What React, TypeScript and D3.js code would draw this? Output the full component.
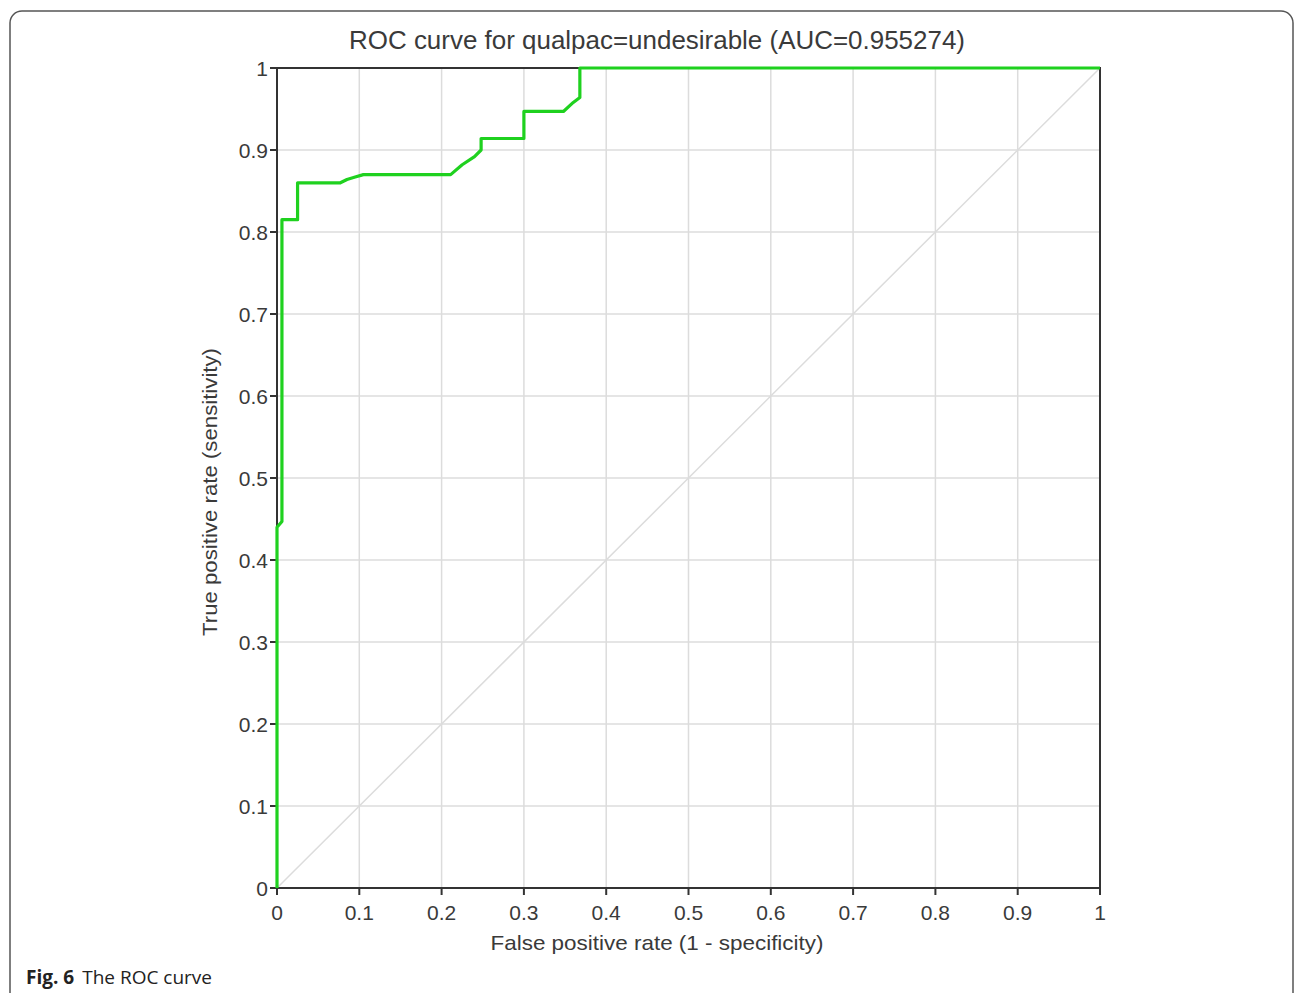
import * as d3 from 'd3';

// ROC points
const fpr = [0, 0, 0.006, 0.006, 0.025, 0.025, 0.077, 0.085, 0.095, 0.105, 0.211, 0.225, 0.24, 0.248, 0.248, 0.3, 0.3, 0.348, 0.36, 0.368, 0.368, 1];
const tpr = [0, 0.44, 0.447, 0.815, 0.815, 0.86, 0.86, 0.864, 0.867, 0.87, 0.87, 0.882, 0.892, 0.9, 0.914, 0.914, 0.947, 0.947, 0.958, 0.964, 1, 1];
const ticks = [0, 0.1, 0.2, 0.3, 0.4, 0.5, 0.6, 0.7, 0.8, 0.9, 1];

const title = 'ROC curve for qualpac=undesirable (AUC=0.955274)';
const xLabel = 'False positive rate (1 - specificity)';
const yLabel = 'True positive rate (sensitivity)';

export default function App() {
  const W = 1295;
  const H = 993;
  const left = 277;
  const right = 1100;
  const top = 68;
  const bottom = 888;

  const x = d3.scaleLinear().domain([0, 1]).range([left, right]);
  const y = d3.scaleLinear().domain([0, 1]).range([bottom, top]);

  const pts = fpr.map((f, i) => [f, tpr[i]] as [number, number]);
  const roc = d3
    .line<[number, number]>()
    .x((d) => x(d[0]))
    .y((d) => y(d[1]))(pts) ?? '';

  const font = '"Liberation Sans", Arial, sans-serif';
  const ink = '#3a3a3a';

  return (
    <svg
      width={W}
      height={H}
      style={{ position: 'absolute', left: 0, top: 0, background: '#fff' }}
    >
      <rect x={10} y={11} width={1283} height={1040} rx={12} fill="#fff" stroke="#555" strokeWidth={1.5} />

      {ticks.map((t) => (
        <g key={'g' + t}>
          <line x1={x(t)} x2={x(t)} y1={top} y2={bottom} stroke="#dcdcdc" strokeWidth={1.5} />
          <line x1={left} x2={right} y1={y(t)} y2={y(t)} stroke="#dcdcdc" strokeWidth={1.5} />
        </g>
      ))}
      <line x1={x(0)} y1={y(0)} x2={x(1)} y2={y(1)} stroke="#dcdcdc" strokeWidth={1.5} />

      <rect x={left} y={top} width={right - left} height={bottom - top} fill="none" stroke="#333" strokeWidth={2} />

      {ticks.map((t) => (
        <g key={'t' + t}>
          <line x1={x(t)} x2={x(t)} y1={bottom} y2={bottom + 7} stroke="#333" strokeWidth={2} />
          <line x1={left - 7} x2={left} y1={y(t)} y2={y(t)} stroke="#333" strokeWidth={2} />
          <text x={x(t)} y={920} textAnchor="middle" fontFamily={font} fontSize={21} fill={ink}>
            {d3.format('~g')(t)}
          </text>
          <text x={268} y={y(t)} dy="0.36em" textAnchor="end" fontFamily={font} fontSize={21} fill={ink}>
            {d3.format('~g')(t)}
          </text>
        </g>
      ))}

      <path d={roc} fill="none" stroke="#1fd11f" strokeWidth={3.2} strokeLinejoin="round" />

      <text
        x={657}
        y={49}
        textAnchor="middle"
        fontFamily={font}
        fontSize={25}
        fill={ink}
        textLength={616}
        lengthAdjust="spacingAndGlyphs"
      >
        {title}
      </text>
      <text
        x={657}
        y={950}
        textAnchor="middle"
        fontFamily={font}
        fontSize={21}
        fill={ink}
        textLength={333}
        lengthAdjust="spacingAndGlyphs"
      >
        {xLabel}
      </text>
      <text
        transform={`translate(217,492) rotate(-90)`}
        textAnchor="middle"
        fontFamily={font}
        fontSize={21}
        fill={ink}
        textLength={288}
        lengthAdjust="spacingAndGlyphs"
      >
        {yLabel}
      </text>

      <text x={26} y={984} fontFamily='"Open Sans", "Noto Sans", sans-serif' fontSize={19} fill="#222">
        <tspan fontWeight="bold">Fig. 6</tspan>
        <tspan dx={8}>The ROC curve</tspan>
      </text>
    </svg>
  );
}
